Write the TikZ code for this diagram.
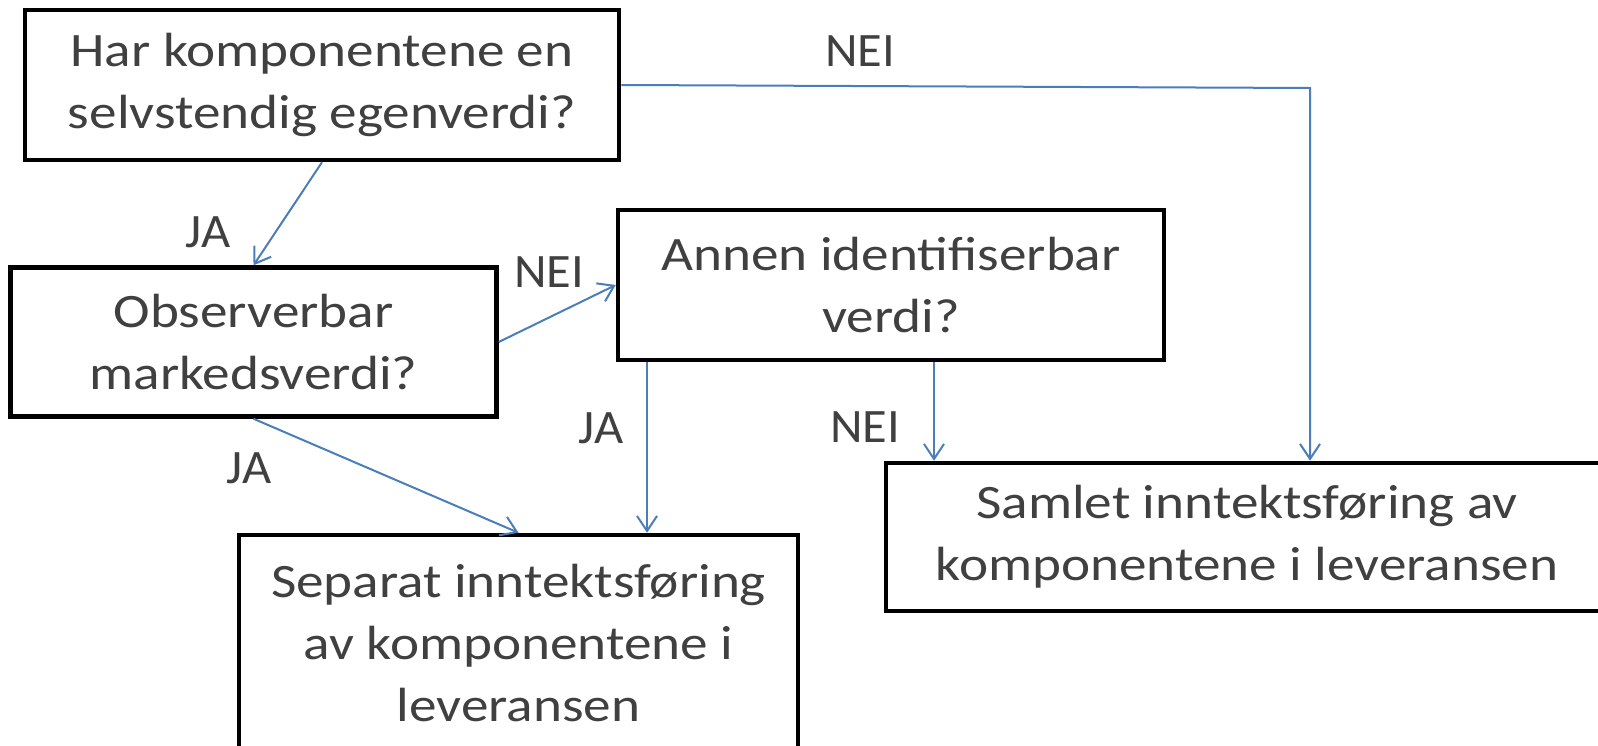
\documentclass[tikz,border=0pt]{standalone}
\usepackage{fontspec}
\setmainfont{Carlito}
\newfontfamily\boxfont[FakeStretch=1.15]{Carlito}
\newfontfamily\labfont[FakeStretch=1.05]{Carlito}
\usetikzlibrary{arrows.meta,calc}
\definecolor{txt}{HTML}{404040}
\definecolor{arr}{HTML}{4A7EBB}
\begin{document}
\begin{tikzpicture}[x=1pt,y=-1pt,
  box/.style={draw=black,line width=4.5pt,fill=white,rectangle,inner sep=0pt,align=center,
    text=txt,font=\boxfont\fontsize{48}{62}\selectfont},
  lab/.style={text=txt,inner sep=0pt,font=\labfont\fontsize{48}{62}\selectfont},
  conn/.style={draw=arr,line width=2pt,-{Straight Barb[length=15pt,width=20pt,line width=2pt]}},
  line join=miter]
\useasboundingbox (0,0) rectangle (1598,746);
\clip (0,0) rectangle (1598,746);
\fill[white] (0,0) rectangle (1598,746);

\node[box,minimum width=594pt,minimum height=150pt] (b1) at (322,85)
  {Har komponentene en\\selvstendig egenverdi?};
\node[box,minimum width=486pt,minimum height=149pt] (b2) at (253.5,342)
  {Observerbar\\markedsverdi?};
\node[box,minimum width=546pt,minimum height=149.5pt] (b3) at (891,285)
  {Annen identifiserbar\\verdi?};
\node[box,minimum width=559pt,minimum height=217pt] (b4) at (518.5,643.5)
  {Separat inntektsføring\\av komponentene i\\leveransen};
\node[box,minimum width=722pt,minimum height=148pt] (b5) at (1247,537)
  {Samlet inntektsføring av\\komponentene i leveransen};

\coordinate (k) at (1310,88);

\draw[conn] (b1.south) -- (b2.north);
\draw[conn] (b2.east) -- (b3.west);
\draw[conn] (b2.south) -- (b4.north);
\draw[conn] ([xshift=-244pt]b3.south) -- ([xshift=-244pt]b3.south |- b4.north);
\draw[conn] ([xshift=43pt]b3.south) -- ([xshift=43pt]b3.south |- b5.north);
\draw[conn] (b1.east) -- (k) -- (k |- b5.north);

\node[lab] (l1) at (208,232) {JA};
\node[lab] (l2) at (549,272) {NEI};
\node[lab] (l3) at (249,468) {JA};
\node[lab] (l4) at (601,428) {JA};
\node[lab] (l5) at (865,427) {NEI};
\node[lab] (l6) at (860,51) {NEI};
\end{tikzpicture}
\end{document}
